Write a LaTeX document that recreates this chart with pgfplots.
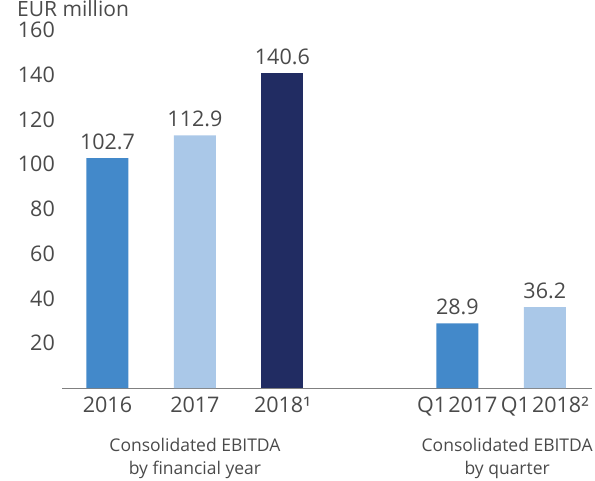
\documentclass[border=0pt]{standalone}
\usepackage{pgfplots}
\pgfplotsset{compat=1.18}
\usepackage{fontspec}
\setmainfont{Open Sans}
\definecolor{cmid}{HTML}{4389CA}
\definecolor{clight}{HTML}{AAC8E8}
\definecolor{cnavy}{HTML}{212C62}
\definecolor{ctext}{HTML}{4A4A4A}
\definecolor{caxis}{HTML}{808080}
\begin{document}
\begin{tikzpicture}
\useasboundingbox (0,0) rectangle (595pt,480pt);
\node[anchor=base west, font=\fontsize{21}{24}\selectfont, text=ctext, inner sep=0pt] at (17pt,463pt) {EUR million};
\begin{axis}[
  at={(62pt,92pt)}, anchor=south west,
  scale only axis, width=530pt, height=358pt,
  xmin=-0.52, xmax=5.54, ymin=0, ymax=160,
  clip=false,
  axis x line*=bottom, axis y line*=left,
  x axis line style={draw=caxis, line width=1pt, -},
  y axis line style={draw=none},
  ytick={20,40,...,160},
  xtick={0,1,2,4,5},
  xticklabels={2016,2017,2018¹,Q1\hspace{0.1em}2017,Q1\hspace{0.1em}2018²},
  major tick length=0pt,
  tick label style={font=\fontsize{21.5}{24}\selectfont, text=ctext},
  /pgf/number format/assume math mode=true,
  xticklabel style={yshift=-5pt},
  yticklabel style={inner sep=0pt, xshift=-7pt},
  ybar, bar width=42pt, bar shift=0pt,
  nodes near coords,
  nodes near coords style={font=\fontsize{21.5}{24}\selectfont, text=ctext, inner sep=0pt, yshift=8pt, /pgf/number format/.cd, fixed, fixed zerofill, precision=1},
]
\addplot[fill=cmid, draw=none] coordinates {(0,102.7) (4,28.9)};
\addplot[fill=clight, draw=none] coordinates {(1,112.9) (5,36.2)};
\addplot[fill=cnavy, draw=none] coordinates {(2,140.6)};
\node[align=center, font=\fontsize{17.5}{23}\selectfont, text=ctext, anchor=north] at (axis cs:1,0) [yshift=-47pt] {Consolidated EBITDA\\by financial year};
\node[align=center, font=\fontsize{17.5}{23}\selectfont, text=ctext, anchor=north] at (axis cs:4.57,0) [yshift=-47pt] {Consolidated EBITDA\\by quarter};
\end{axis}
\end{tikzpicture}
\end{document}
